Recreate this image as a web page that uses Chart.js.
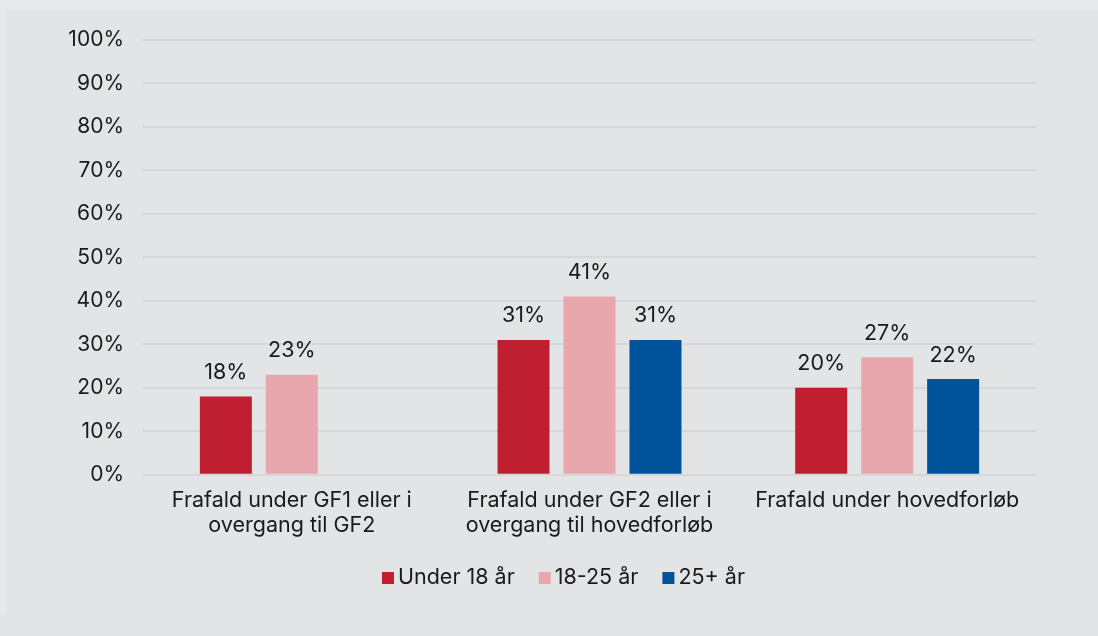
<!DOCTYPE html>
<html>
<head>
<meta charset="utf-8">
<script src="https://cdn.jsdelivr.net/npm/chart.js@4"></script>
<style>
  html, body { margin: 0; padding: 0; background: #e3e4e6; }
  #wrap { width: 1098px; height: 636px; position: relative; }
  canvas { display: block; }
</style>
</head>
<body>
<div id="wrap"><canvas id="c" width="1098" height="636"></canvas></div>
<script>
const categories = [
  ["Frafald under GF1 eller i", "overgang til GF2"],
  ["Frafald under GF2 eller i", "overgang til hovedforløb"],
  ["Frafald under hovedforløb"]
];
const seriesNames = ["Under 18 år", "18-25 år", "25+ år"];
const under18 = [18, 31, 20];
const age18to25 = [23, 41, 27];
const age25plus = [null, 31, 22];
const seriesColors = ["#c01f31", "#e8a7ac", "#00529b"];
const yTicks = [0, 10, 20, 30, 40, 50, 60, 70, 80, 90, 100];

const FONT = "Inter, 'Noto Sans', sans-serif";
const FS = 21.5;
const TEXT = "#1a1a1a";

const bgPlugin = {
  id: 'bg',
  beforeDraw(chart) {
    const ctx = chart.ctx;
    ctx.save();
    ctx.fillStyle = '#e3e4e6';
    ctx.fillRect(0, 0, chart.width, chart.height);
    ctx.fillStyle = '#e8e9eb';
    ctx.fillRect(0, 0, chart.width, 10);
    ctx.fillRect(0, 0, 7, 613);
    ctx.restore();
  }
};

const labelPlugin = {
  id: 'valueLabels',
  afterDatasetsDraw(chart) {
    const ctx = chart.ctx;
    ctx.save();
    ctx.font = FS + "px " + FONT;
    ctx.fillStyle = TEXT;
    ctx.textAlign = 'center';
    ctx.textBaseline = 'middle';
    chart.data.datasets.forEach((ds, i) => {
      const meta = chart.getDatasetMeta(i);
      meta.data.forEach((bar, j) => {
        const v = ds.data[j];
        if (v === null || v === undefined) return;
        ctx.fillText(v + "%", bar.x, bar.y - 24);
      });
    });
    ctx.restore();
  }
};

const legendPlugin = {
  id: 'customLegend',
  afterDraw(chart) {
    const ctx = chart.ctx;
    ctx.save();
    ctx.font = FS + "px " + FONT;
    ctx.textBaseline = 'middle';
    ctx.textAlign = 'left';
    const box = 12, gapBoxText = 4, gapItems = 24;
    const widths = chart.data.datasets.map(ds => box + gapBoxText + ctx.measureText(ds.label).width);
    const total = widths.reduce((a, b) => a + b, 0) + gapItems * (widths.length - 1);
    let x = 563.5 - total / 2;
    const yc = 578;
    chart.data.datasets.forEach((ds, i) => {
      ctx.fillStyle = ds.backgroundColor;
      ctx.fillRect(x, yc - box / 2, box, box);
      ctx.fillStyle = TEXT;
      ctx.fillText(ds.label, x + box + gapBoxText, yc);
      x += widths[i] + gapItems;
    });
    ctx.restore();
  }
};

new Chart(document.getElementById('c'), {
  type: 'bar',
  data: {
    labels: categories,
    datasets: [
      { label: seriesNames[0], data: under18, backgroundColor: seriesColors[0] },
      { label: seriesNames[1], data: age18to25, backgroundColor: seriesColors[1] },
      { label: seriesNames[2], data: age25plus, backgroundColor: seriesColors[2] }
    ]
  },
  options: {
    responsive: false,
    animation: false,
    devicePixelRatio: 1,
    layout: { padding: { top: 40, right: 62, bottom: 85, left: 0 } },
    datasets: { bar: { barPercentage: 0.788, categoryPercentage: 0.665 } },
    scales: {
      x: {
        grid: { display: false, drawTicks: false },
        border: { display: false },
        ticks: { color: TEXT, font: { family: FONT, size: FS, lineHeight: 1.17 }, padding: 13, maxRotation: 0, autoSkip: false }
      },
      y: {
        min: 0, max: 100,
        afterFit(scale) { scale.width = 143; },
        afterBuildTicks(scale) { scale.ticks = yTicks.map(v => ({ value: v })); },
        grid: { color: '#d6d7d9', lineWidth: 2, drawTicks: false },
        border: { display: false },
        ticks: { color: TEXT, font: { family: FONT, size: 21 }, padding: 19, callback: v => v + "%" }
      }
    },
    plugins: {
      legend: { display: false },
      tooltip: { enabled: false }
    }
  },
  plugins: [bgPlugin, labelPlugin, legendPlugin]
});
</script>
</body>
</html>
